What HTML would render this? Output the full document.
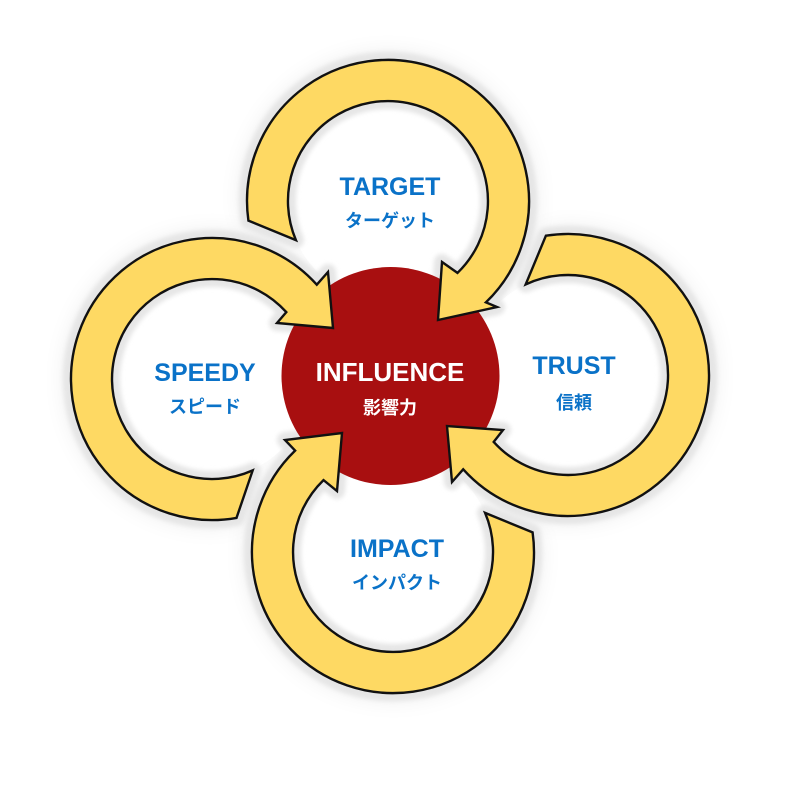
<!DOCTYPE html>
<html><head><meta charset="utf-8"><style>
html,body{margin:0;padding:0;background:#fff}
svg{display:block}
.t{font-family:"Liberation Sans","Noto Sans CJK JP",sans-serif;font-weight:bold;text-anchor:middle}
</style></head><body>
<svg id="s" width="791" height="791" viewBox="0 0 791 791" xmlns="http://www.w3.org/2000/svg">
<defs>
<filter id="big" x="-30%" y="-30%" width="160%" height="160%"><feGaussianBlur stdDeviation="14"/></filter>
<filter id="sh" x="-20%" y="-20%" width="140%" height="140%"><feGaussianBlur stdDeviation="2"/></filter>
</defs>
<g id="bg"></g>
<circle cx="388" cy="201" r="100" fill="#fff"/>
<circle cx="212" cy="379" r="99" fill="#fff"/>
<circle cx="568" cy="375" r="100" fill="#fff"/>
<circle cx="393" cy="552" r="100" fill="#fff"/>
<g id="shd"></g>
<circle cx="390.5" cy="376" r="109" fill="#a80f10"/>
<g id="arr"></g>
<text class="t" x="390" y="195" font-size="25" fill="#0a72c8">TARGET</text>
<text class="t" x="390" y="227" font-size="18" fill="#0a72c8">ターゲット</text>
<text class="t" x="205" y="381" font-size="25" fill="#0a72c8">SPEEDY</text>
<text class="t" x="205" y="413" font-size="18" fill="#0a72c8">スピード</text>
<text class="t" x="574" y="374" font-size="25" fill="#0a72c8">TRUST</text>
<text class="t" x="574" y="409" font-size="18" fill="#0a72c8">信頼</text>
<text class="t" x="397" y="557" font-size="25" fill="#0a72c8">IMPACT</text>
<text class="t" x="397" y="589" font-size="18" fill="#0a72c8">インパクト</text>
<text class="t" x="390" y="381" font-size="26" fill="#fff">INFLUENCE</text>
<text class="t" x="390" y="414" font-size="18" fill="#fff">影響力</text>
</svg>
<script>
var A=[
 {c:[388,201],ao:172,ai:157,a1:406,bi:[442,262],bo:[497,307],tip:[438,320]},
 {c:[212,379],ao:80,ai:66,a1:318,bi:[277,323],bo:[328,272],tip:[333,328]},
 {c:[568,375],ao:261,ai:245,a1:498,bi:[503,430],bo:[452,482],tip:[447,426]},
 {c:[393,552],ao:352,ai:337,a1:586,bi:[337,491],bo:[285,440],tip:[342,433]}
];
var R=141,r=100,ns="http://www.w3.org/2000/svg";
function p(c,rad,a){a=a*Math.PI/180;return (c[0]+rad*Math.cos(a)).toFixed(1)+" "+(c[1]+rad*Math.sin(a)).toFixed(1);}
var arr=document.getElementById("arr"),bg=document.getElementById("bg"),shd=document.getElementById("shd");
var ds=A.map(function(o){
 return "M"+p(o.c,R,o.ao)+" A"+R+" "+R+" 0 1 1 "+p(o.c,R,o.a1)+" L"+o.bo.join(" ")+" L"+o.tip.join(" ")+" L"+o.bi.join(" ")+" L"+p(o.c,r,o.a1)+" A"+r+" "+r+" 0 1 0 "+p(o.c,r,o.ai)+" Z";
});
ds.forEach(function(d){
 var b=document.createElementNS(ns,"path");b.setAttribute("d",d);b.setAttribute("fill","#000");b.setAttribute("opacity","0.12");b.setAttribute("filter","url(#big)");bg.appendChild(b);
 var s=document.createElementNS(ns,"path");s.setAttribute("d",d);s.setAttribute("fill","#e6e6e6");s.setAttribute("stroke","#e6e6e6");s.setAttribute("stroke-width","16");s.setAttribute("stroke-linejoin","round");s.setAttribute("filter","url(#sh)");shd.appendChild(s);
});
ds.forEach(function(d){
 var e=document.createElementNS(ns,"path");e.setAttribute("d",d);e.setAttribute("fill","#fed963");e.setAttribute("stroke","#111");e.setAttribute("stroke-width","2.4");e.setAttribute("stroke-linejoin","miter");arr.appendChild(e);
});
</script>
</body></html>
